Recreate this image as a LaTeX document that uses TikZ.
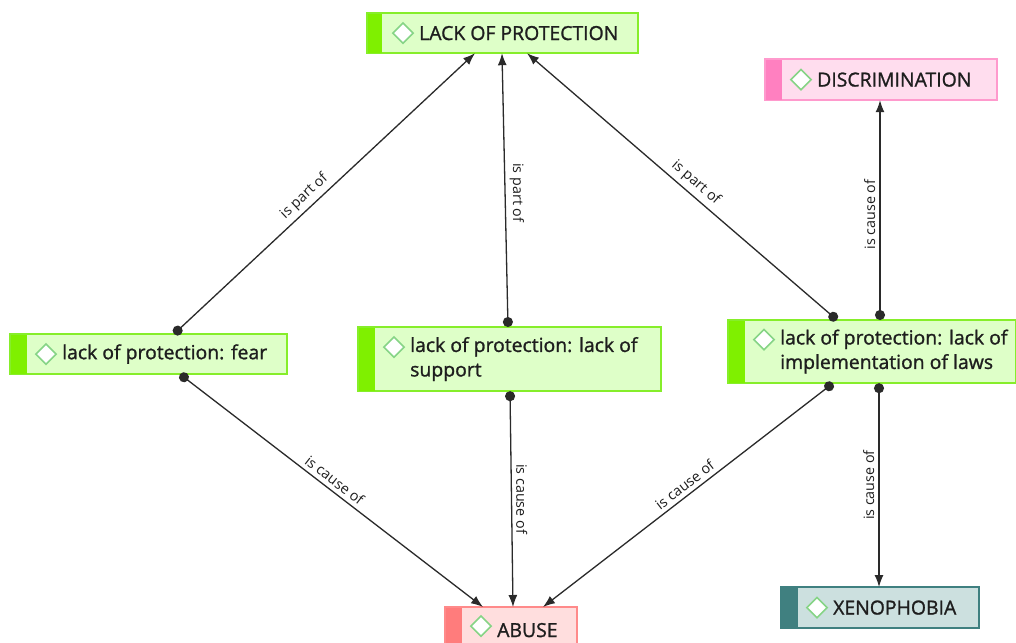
\documentclass[tikz,border=0pt]{standalone}
\usepackage{fontspec}
\setmainfont{Open Sans}
\newfontfamily\heavyfont{Open Sans}[FakeBold=1.2]
\usetikzlibrary{arrows.meta,shapes.geometric,calc}
\definecolor{greenfill}{HTML}{DEFFC8}
\definecolor{greenline}{HTML}{86EE2A}
\definecolor{greenbar}{HTML}{7FF000}
\definecolor{pinkfill}{HTML}{FFDDEE}
\definecolor{pinkline}{HTML}{FF9ACD}
\definecolor{pinkbar}{HTML}{FF80C0}
\definecolor{redfill}{HTML}{FFDEDE}
\definecolor{redline}{HTML}{FF8A8A}
\definecolor{redbar}{HTML}{FF7C7C}
\definecolor{tealfill}{HTML}{CCE0DF}
\definecolor{tealline}{HTML}{3F8080}
\definecolor{tealbar}{HTML}{408080}
\definecolor{diamline}{HTML}{86D486}
\definecolor{txtc}{HTML}{1E1E1E}
\definecolor{linkc}{HTML}{2A2A2A}
\tikzset{
  cbox/.style={draw=#1line, fill=#1fill, line width=1.2pt, anchor=north west, inner sep=0pt},
  diam/.style={diamond, draw=diamline, fill=white, line width=1.6pt, minimum width=21pt, minimum height=21pt, inner sep=0pt},
  ctext/.style={text=txtc, font=\heavyfont\fontsize{19.4}{24.5}\selectfont, align=left, inner sep=0pt},
  rel/.style={draw=linkc, line width=1.3pt, {Circle[length=10pt]}-{Latex[length=12pt,width=9pt]}},
  lbl/.style={text=txtc, font=\fontsize{14.3}{16}\selectfont, inner sep=4pt, anchor=south},
}
% #1 name, #2 x, #3 y, #4 w, #5 h, #6 colour, #7 bar width, #8 text, #9 icon y offset
\newcommand\concept[9]{%
  \node[cbox=#6, minimum width=#4pt, minimum height=#5pt] (#1) at (#2,#3) {};
  \fill[#6bar] (#1.north west) rectangle ($(#1.south west)+(#7,0)$);
  \draw[#6line, line width=1.2pt] (#1.north west) rectangle (#1.south east);
  \node[diam] (#1-d) at ($(#1.west)+(36,#9)$) {};
  \node[ctext, anchor=west] (#1-t) at ($(#1.west)+(52,0)$) {#8};
}
\begin{document}
\begin{tikzpicture}[x=1pt,y=-1pt]
\useasboundingbox (0,0) rectangle (1016,642);
\fill[white] (0,0) rectangle (1016,642);
\concept{top}{367}{13}{270}{39}{green}{15}{LACK OF PROTECTION}{0}
\concept{disc}{765}{59}{231}{40}{pink}{17}{DISCRIMINATION}{0}
\concept{fear}{10}{334}{276}{39}{green}{17}{lack of protection: fear}{0}
\concept{supp}{358}{327}{302}{63}{green}{17}{lack of protection: lack of\\support}{-12}
\concept{laws}{728}{320}{287}{62}{green}{17}{lack of protection: lack of\\implementation of laws}{-12}
\concept{abuse}{445}{607}{131}{45}{red}{17}{ABUSE}{-4}
\concept{xeno}{781}{587}{197}{40}{teal}{17}{XENOPHOBIA}{0}
% connector end points on the borders
\coordinate (fear-n) at (174,0 |- fear.north);
\coordinate (fear-s) at (180,0 |- fear.south);
\coordinate (supp-n) at (508,0 |- supp.north);
\coordinate (supp-s) at (510,0 |- supp.south);
\coordinate (laws-n1) at (837,0 |- laws.north);
\coordinate (laws-n2) at (880,0 |- laws.north);
\coordinate (laws-s1) at (833,0 |- laws.south);
\coordinate (laws-s2) at (879,0 |- laws.south);
\coordinate (top-s1) at (475,0 |- top.south);
\coordinate (top-s2) at (502,0 |- top.south);
\coordinate (top-s3) at (527,0 |- top.south);
\coordinate (disc-s) at (880,0 |- disc.south);
\coordinate (abuse-n1) at (483,0 |- abuse.north);
\coordinate (abuse-n2) at (513,0 |- abuse.north);
\coordinate (abuse-n3) at (543,0 |- abuse.north);
\coordinate (xeno-n) at (879,0 |- xeno.north);
\draw[rel] (fear-n) -- node[lbl, pos=0.46, rotate=43.1] {is part of} (top-s1);
\draw[rel] (supp-n) -- node[lbl, pos=0.49, rotate=-90] {is part of} (top-s2);
\draw[rel] (laws-n1) -- node[lbl, pos=0.48, rotate=-40.8] {is part of} (top-s3);
\draw[rel] (laws-n2) -- node[lbl, pos=0.48, rotate=90] {is cause of} (disc-s);
\draw[rel] (fear-s) -- node[lbl, pos=0.49, rotate=-37.7] {is cause of} (abuse-n1);
\draw[rel] (supp-s) -- node[lbl, pos=0.5, rotate=-90] {is cause of} (abuse-n2);
\draw[rel] (laws-s1) -- node[lbl, pos=0.49, rotate=37.8] {is cause of} (abuse-n3);
\draw[rel] (laws-s2) -- node[lbl, pos=0.5, rotate=90] {is cause of} (xeno-n);
\end{tikzpicture}
\end{document}
